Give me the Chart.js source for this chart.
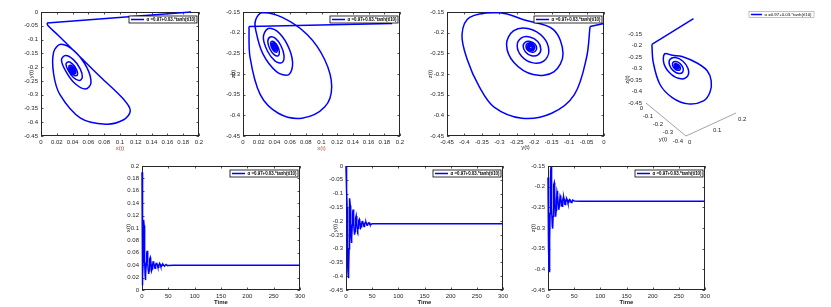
<!DOCTYPE html>
<html><head><meta charset="utf-8">
<script src="https://cdn.jsdelivr.net/npm/chart.js@4.4.1/dist/chart.umd.min.js"></script>
<style>
html,body{margin:0;padding:0;background:#fff;}
body{position:relative;width:831px;height:307px;overflow:hidden;}
canvas{position:absolute;}
</style></head><body>
<canvas id="p1"></canvas><canvas id="p2"></canvas><canvas id="p3"></canvas><canvas id="p4"></canvas>
<canvas id="b1"></canvas><canvas id="b2"></canvas><canvas id="b3"></canvas>
<script>
// ---------------- data ----------------
const tVals = [0, 0.5, 1.0, 1.6, 2.1, 2.6, 3.1, 3.5, 4.0, 4.6, 5.3, 5.9, 6.3,
  6.7, 7.45, 8.2, 8.95, 9.7, 10.45, 11.2, 11.95,
  12.7, 13.45, 14.2, 14.95, 15.7, 16.45, 17.2, 17.95,
  18.7, 19.45, 20.2, 20.95, 21.7, 22.45, 23.2, 23.95,
  24.7, 25.45, 26.2, 26.95, 27.7, 28.45, 29.2, 29.95,
  30.7, 31.45, 32.2, 32.95, 33.7, 34.45, 35.2, 35.95,
  36.7, 38.2, 39.7, 41.2,
  42.7, 44.2, 45.7, 47.2,
  50, 60, 300];
const xVals = [0.19, 0.0076, 0.009, 0.022, 0.045, 0.075, 0.104, 0.113, 0.104, 0.082, 0.05, 0.024, 0.016,
  0.016, 0.0252, 0.043, 0.0583, 0.0632, 0.0563, 0.043, 0.0315,
  0.0259, 0.0311, 0.041, 0.0496, 0.0523, 0.0484, 0.041, 0.0346,
  0.0316, 0.0344, 0.04, 0.0448, 0.0463, 0.0442, 0.04, 0.0364,
  0.0352, 0.0368, 0.04, 0.0429, 0.0439, 0.0427, 0.04, 0.0376,
  0.0368, 0.0378, 0.04, 0.0419, 0.0426, 0.0418, 0.04, 0.0384,
  0.0379, 0.04, 0.0417, 0.04,
  0.0386, 0.04, 0.0411, 0.04,
  0.0396, 0.04, 0.04];
const yVals = [0, -0.04, -0.05, -0.085, -0.15, -0.235, -0.315, -0.358, -0.392, -0.407, -0.385, -0.3, -0.225,
  -0.1457, -0.1174, -0.1437, -0.203, -0.2581, -0.2793, -0.2596, -0.2152,
  -0.174, -0.1581, -0.1729, -0.2061, -0.2369, -0.2488, -0.2377, -0.2129,
  -0.1899, -0.181, -0.1892, -0.2078, -0.225, -0.2317, -0.2255, -0.2116,
  -0.1985, -0.1931, -0.1976, -0.2087, -0.2194, -0.2238, -0.2201, -0.2111,
  -0.2023, -0.1987, -0.2018, -0.2091, -0.2162, -0.2192, -0.2167, -0.2107,
  -0.2049, -0.2046, -0.2141, -0.2144,
  -0.2067, -0.2064, -0.2127, -0.2129,
  -0.2095, -0.21, -0.21];
const zVals = [-0.178, -0.185, -0.26, -0.35, -0.395, -0.407, -0.38, -0.33, -0.265, -0.205, -0.163, -0.152, -0.17,
  -0.1921, -0.2509, -0.2947, -0.3014, -0.2723, -0.2283, -0.1956, -0.1906,
  -0.2113, -0.2443, -0.2687, -0.2725, -0.2562, -0.2316, -0.2133, -0.2104,
  -0.2216, -0.2401, -0.2538, -0.2559, -0.2467, -0.233, -0.2227, -0.2211,
  -0.2268, -0.2374, -0.2456, -0.2471, -0.2417, -0.2331, -0.2264, -0.2251,
  -0.2295, -0.2366, -0.242, -0.243, -0.2395, -0.2337, -0.2293, -0.2285,
  -0.2314, -0.2397, -0.2379, -0.2312,
  -0.2326, -0.2381, -0.2369, -0.2325,
  -0.2345, -0.235, -0.235];
const legendLabel = 'α =0.97+0.03.*tanh(t/10)';
const xSmallTicks = [0, 0.02, 0.04, 0.06, 0.08, 0.1, 0.12, 0.14, 0.16, 0.18, 0.2];
const negFullTicks = [-0.45, -0.4, -0.35, -0.3, -0.25, -0.2, -0.15, -0.1, -0.05, 0];
const zRangeTicks = [-0.45, -0.4, -0.35, -0.3, -0.25, -0.2, -0.15];
const timeTicks = [0, 50, 100, 150, 200, 250, 300];
const x3DTicks = [0, 0.1, 0.2];
const y3DTicks = [0, -0.1, -0.2, -0.3, -0.4];

// ---------------- styling / helpers ----------------
const FONT = "'Liberation Sans', Arial, sans-serif";
const LINE = '#0000ff';
const INK = '#262626';
const fmt = v => String(parseFloat(Number(v).toFixed(4)));
const pts = (a, b) => a.map((v, i) => ({x: v, y: b[i]}));

function lineSet(data, tension) {
  return {label: legendLabel, data, showLine: true, borderColor: LINE, backgroundColor: LINE,
    borderWidth: 1.5, pointRadius: 0, tension, fill: false, clip: 2};
}
function phaseSets(a, b) {
  const p = pts(a, b);
  return [lineSet(p.slice(0, 2), 0), lineSet(p.slice(1), 0.35)];
}

const frame = {
  id: 'frame',
  beforeDatasetsDraw(chart, args, o) {
    if (!o || !o.show) return;
    const {ctx, chartArea: a, scales: {x, y}} = chart;
    ctx.save();
    ctx.strokeStyle = INK; ctx.lineWidth = 1;
    ctx.strokeRect(a.left + 0.5, a.top + 0.5, a.width - 1, a.height - 1);
    ctx.lineWidth = 0.8;
    ctx.beginPath();
    const L = 2.5;
    x.ticks.forEach(t => { const p = Math.round(x.getPixelForValue(t.value)) + 0.5;
      ctx.moveTo(p, a.bottom); ctx.lineTo(p, a.bottom - L); ctx.moveTo(p, a.top); ctx.lineTo(p, a.top + L); });
    y.ticks.forEach(t => { const p = Math.round(y.getPixelForValue(t.value)) + 0.5;
      ctx.moveTo(a.left, p); ctx.lineTo(a.left + L, p); ctx.moveTo(a.right, p); ctx.lineTo(a.right - L, p); });
    ctx.stroke(); ctx.restore();
  }
};

const yTitle = {
  id: 'yTitle',
  afterDraw(chart, args, o) {
    if (!o || !o.text) return;
    const ctx = chart.ctx, a = chart.chartArea;
    ctx.save();
    ctx.fillStyle = INK; ctx.font = '6px ' + FONT;
    ctx.textAlign = 'center'; ctx.textBaseline = 'middle';
    ctx.translate(a.left - o.d, (a.top + a.bottom) / 2);
    ctx.rotate(-Math.PI / 2);
    ctx.fillText(o.text, 0, 0);
    ctx.restore();
  }
};

const legendBox = {
  id: 'legendBox',
  afterDraw(chart, args, o) {
    if (!o || !o.show) return;
    const ctx = chart.ctx, a = chart.chartArea, ds = chart.data.datasets[0];
    const w = o.w, h = o.h;
    const x0 = o.ax !== undefined ? o.ax : a.right - o.dr - w;
    const y0 = o.ay !== undefined ? o.ay : a.top + o.dt;
    ctx.save();
    ctx.fillStyle = '#fff'; ctx.fillRect(x0, y0, w, h);
    ctx.strokeStyle = o.border; ctx.lineWidth = o.bw; ctx.strokeRect(x0, y0, w, h);
    ctx.strokeStyle = ds.borderColor; ctx.lineWidth = 1.5;
    ctx.beginPath(); ctx.moveTo(x0 + 2, y0 + h / 2); ctx.lineTo(x0 + o.sample, y0 + h / 2); ctx.stroke();
    const weight = o.bold ? 'bold ' : '';
    ctx.font = weight + '10px ' + FONT;
    const m = ctx.measureText(ds.label).width;
    const size = 10 * o.textW / m;
    ctx.font = weight + size.toFixed(2) + 'px ' + FONT;
    ctx.fillStyle = '#000'; ctx.textBaseline = 'middle'; ctx.textAlign = 'left';
    ctx.fillText(ds.label, x0 + o.sample + 2.5, y0 + h / 2 + 0.3);
    ctx.restore();
  }
};

const YW = 30; // room for the y tick labels
function axis(ticks, title, isX, size, color, bold) {
  return {
    type: 'linear', min: ticks[0], max: ticks[ticks.length - 1],
    afterBuildTicks: s => { s.ticks = ticks.map(v => ({value: v})); },
    afterFit: s => { if (isX) s.height = size; else s.width = size; },
    grid: {display: false, drawTicks: false},
    border: {display: false},
    ticks: {font: {family: FONT, size: 6}, color: INK, padding: 3, autoSkip: false,
      maxRotation: 0, minRotation: 0, callback: v => fmt(v)},
    title: {display: isX, text: title, color: color || INK, padding: 0,
      font: {family: FONT, size: 6, lineHeight: 1, weight: bold ? 'bold' : 'normal'}}
  };
}

function makePanel(id, box, cfg) {
  const PL = 4, PT = 8, PR = 10;
  const H = cfg.xd + 3;
  const cv = document.getElementById(id);
  const w = box.r - box.l + YW + PL + PR, h = box.b - box.t + PT + H;
  cv.width = w; cv.height = h;
  cv.style.width = w + 'px'; cv.style.height = h + 'px';
  cv.style.left = (box.l - YW - PL) + 'px'; cv.style.top = (box.t - PT) + 'px';
  return new Chart(cv, {
    type: 'scatter',
    data: {datasets: cfg.datasets},
    options: {
      responsive: false, animation: false, events: [],
      layout: {padding: {left: PL, top: PT, right: PR, bottom: 0}},
      scales: {
        x: axis(cfg.xTicks, cfg.xTitle, true, H, cfg.xColor, cfg.xBold),
        y: axis(cfg.yTicks, cfg.yTitle, false, YW)
      },
      plugins: {legend: {display: false}, tooltip: {enabled: false},
        frame: {show: true},
        yTitle: {text: cfg.yTitle, d: cfg.yd},
        legendBox: {show: true, w: 68, h: 7, dr: 2, dt: 4, border: '#000', bw: 0.8, sample: 15, textW: 49, bold: true}}
    },
    plugins: [frame, yTitle, legendBox]
  });
}

// ---------------- top row: phase portraits ----------------
makePanel('p1', {l: 41, t: 12, r: 199, b: 136}, {yd: 10, xd: 12,
  datasets: phaseSets(xVals, yVals), xTicks: xSmallTicks, yTicks: negFullTicks,
  xTitle: 'x(t)', yTitle: 'y(t)', xColor: '#b84a3c'});
makePanel('p2', {l: 243, t: 12, r: 400, b: 136}, {yd: 10, xd: 12,
  datasets: phaseSets(xVals, zVals), xTicks: xSmallTicks, yTicks: zRangeTicks,
  xTitle: 'x(t)', yTitle: 'z(t)', xColor: '#b84a3c'});
makePanel('p3', {l: 447, t: 12, r: 604, b: 136}, {yd: 17, xd: 11,
  datasets: phaseSets(yVals, zVals), xTicks: negFullTicks, yTicks: zRangeTicks,
  xTitle: 'y(t)', yTitle: 'z(t)'});

// ---------------- bottom row: time series ----------------
makePanel('b1', {l: 142, t: 166, r: 300, b: 290}, {yd: 14, xd: 12,
  datasets: [lineSet(pts(tVals, xVals), 0)], xTicks: timeTicks, yTicks: xSmallTicks,
  xTitle: 'Time', yTitle: 'x(t)', xBold: true});
makePanel('b2', {l: 346, t: 166, r: 503, b: 290}, {yd: 11, xd: 12,
  datasets: [lineSet(pts(tVals, yVals), 0)], xTicks: timeTicks, yTicks: negFullTicks,
  xTitle: 'Time', yTitle: 'y(t)', xBold: true});
makePanel('b3', {l: 548, t: 166, r: 705, b: 290}, {yd: 15, xd: 12,
  datasets: [lineSet(pts(tVals, zVals), 0)], xTicks: timeTicks, yTicks: zRangeTicks,
  xTitle: 'Time', yTitle: 'z(t)', xBold: true});

// ---------------- 3-D view (oblique projection of the same trajectory) ----------------
const proj = (x, y, z) => ({x: 250 * x - 100 * y, y: 115 * x + 82.5 * y + 230 * z});
const traj3D = xVals.map((v, i) => proj(v, yVals[i], zVals[i]));
const axes3D = {
  id: 'axes3D',
  afterDatasetsDraw(chart) {
    const {ctx, scales: {x: sx, y: sy}} = chart;
    const P = (x, y, z) => { const p = proj(x, y, z); return [sx.getPixelForValue(p.x), sy.getPixelForValue(p.y)]; };
    const z0 = zRangeTicks[0];
    const yEnd = y3DTicks[y3DTicks.length - 1];
    const xEnd = x3DTicks[x3DTicks.length - 1];
    ctx.save();
    ctx.strokeStyle = '#8c8c8c'; ctx.lineWidth = 0.8;
    ctx.beginPath();
    const a = P(0, 0, z0), b = P(0, yEnd, z0), c = P(xEnd, yEnd, z0);
    ctx.moveTo(a[0], a[1]); ctx.lineTo(b[0], b[1]); ctx.lineTo(c[0], c[1]);
    ctx.stroke();
    ctx.fillStyle = INK; ctx.font = '6px ' + FONT; ctx.textBaseline = 'middle';
    ctx.textAlign = 'right';
    zRangeTicks.forEach(v => { const p = P(0, 0, v); ctx.fillText(fmt(v), p[0] - 4, p[1]); });
    y3DTicks.forEach(v => { const p = P(0, v, z0); ctx.fillText(fmt(v), p[0] - 3, p[1] + 5); });
    ctx.textAlign = 'left';
    x3DTicks.forEach(v => { const p = P(v, yEnd, z0); ctx.fillText(fmt(v), p[0] + 2, p[1] + 6); });
    ctx.textAlign = 'center';
    const ym = P(0, yEnd / 2, z0);
    ctx.fillText('y(t)', ym[0] - 3, ym[1] + 20);
    const zm = P(0, 0, (zRangeTicks[0] + zRangeTicks[zRangeTicks.length - 1]) / 2);
    ctx.translate(zm[0] - 19, zm[1] + 11);
    ctx.rotate(-Math.PI / 2);
    ctx.fillText('z(t)', 0, 0);
    ctx.restore();
  }
};
(function () {
  const cv = document.getElementById('p4');
  cv.width = 221; cv.height = 150;
  cv.style.width = '221px'; cv.style.height = '150px';
  cv.style.left = '610px'; cv.style.top = '0px';
  new Chart(cv, {
    type: 'scatter',
    data: {datasets: [lineSet(traj3D.slice(0, 2), 0), lineSet(traj3D.slice(1), 0.35)]},
    options: {
      responsive: false, animation: false, events: [],
      layout: {padding: 0},
      scales: {
        x: {type: 'linear', display: false, min: -36, max: 185},
        y: {type: 'linear', display: false, min: -150.5, max: -0.5}
      },
      plugins: {legend: {display: false}, tooltip: {enabled: false},
        legendBox: {show: true, ax: 139, ay: 11.5, w: 65, h: 6, border: '#9a9a9a', bw: 0.6, sample: 13, textW: 47, bold: false}}
    },
    plugins: [axes3D, legendBox]
  });
})();
</script></body></html>
